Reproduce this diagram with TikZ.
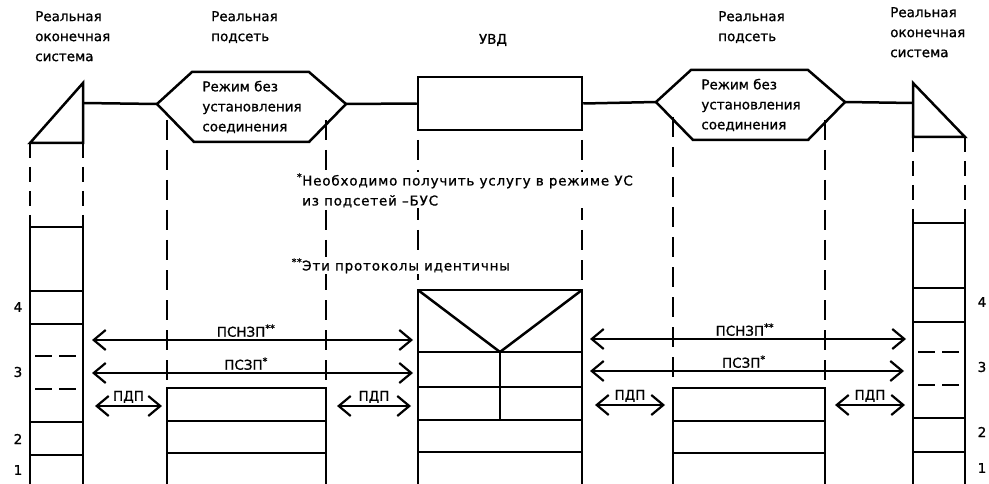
\documentclass[tikz,border=0pt]{standalone}
\usepackage{fontspec}
\setmainfont[FakeBold=1]{DejaVu Sans}
\usetikzlibrary{arrows.meta}

\begin{document}
\begin{tikzpicture}[x=1pt, y=-1pt, line width=2.5pt, font=\fontsize{13.5}{20}\selectfont,
  hdr/.style={anchor=north west, align=left, inner sep=0pt},
  brk/.style={dash pattern=on 20pt off 10pt},
  sbrk/.style={line width=2.2pt, dash pattern=on 17pt off 7pt},
  pdu/.style={{Straight Barb[length=12pt,width=20pt]}-{Straight Barb[length=12pt,width=20pt]}, line width=2.2pt},
  plab/.style={anchor=south, inner sep=2pt},
  note/.style={anchor=north west, align=left, inner sep=1pt, fill=white,
    font=\fontsize{13.5}{20}\selectfont\addfontfeatures{LetterSpace=6}}]
  \useasboundingbox (0,0) rectangle (989,484);

  % headings
  \node[hdr] (esLhd) at (34,10) {Реальная\\оконечная\\система};
  \node[hdr] (snLhd) at (210,10) {Реальная\\подсеть};
  \node[inner sep=0pt] (relayhd) at (493,40) {УВД};
  \node[hdr] (snRhd) at (717,10) {Реальная\\подсеть};
  \node[hdr] (esRhd) at (889,6) {Реальная\\оконечная\\система};

  % end systems
  \draw (83,83) -- (83,143) -- (30,143) -- cycle;
  \draw (913,83) -- (913,137) -- (965,137) -- cycle;
  \coordinate (esLtop) at (83,103);
  \coordinate (esRtop) at (913,103);

  % subnets, connectionless mode
  \foreach \sn/\cx/\top in {L/252/72, R/751/70} {
    \draw (\cx-95,\top+32) -- (\cx-60,\top) -- (\cx+57,\top) -- (\cx+94,\top+32)
      -- (\cx+57,\top+70) -- (\cx-58,\top+70) -- cycle;
    \coordinate (hex\sn w) at (\cx-95,\top+32);
    \coordinate (hex\sn e) at (\cx+94,\top+32);
    \node[align=left, inner sep=0pt] (hex\sn txt) at (\cx,\top+35) {Режим без\\установления\\соединения};
  }

  % relay
  \node[draw, minimum width=164pt, minimum height=53pt, inner sep=0pt] (relay) at (500,103.5) {};

  \draw (esLtop) -- (hexLw);
  \draw (hexLe) -- (relay.west);
  \draw (relay.east) -- (hexRw);
  \draw (hexRe) -- (esRtop);

  % dashed drops
  \foreach \x/\ya/\yb in {30/143/227, 83/143/227, 913/137/223, 965/137/223}
    \draw[brk, dash pattern=on 15pt off 9pt] (\x,\ya) -- (\x,\yb);
  \foreach \x/\ya/\yb in {167/120/388, 326/120/388, 673/117/387, 825/120/387, 418/140/290, 582/140/290}
    \draw[brk] (\x,\ya) -- (\x,\yb);

  % end system stacks
  \draw (30,484) -- (30,227) -- (83,227) -- (83,484);
  \foreach \y in {291,324,422,455} \draw (30,\y) -- (83,\y);
  \foreach \y in {356,389} \draw[sbrk] (35,\y) -- (80,\y);
  \draw (913,484) -- (913,223) -- (965,223) -- (965,484);
  \foreach \y in {288,322,418,452} \draw (913,\y) -- (965,\y);
  \foreach \y in {352,385} \draw[sbrk] (918,\y) -- (963,\y);

  % subnet stacks
  \foreach \a/\b in {167/326, 673/825} {
    \draw (\a,484) -- (\a,388) -- (\b,388) -- (\b,484);
    \foreach \y in {421,453} \draw (\a,\y) -- (\b,\y);
  }

  % relay stack
  \draw (418,484) -- (418,290) -- (582,290) -- (582,484);
  \draw (418,290) -- (500,352) -- (582,290);
  \foreach \y in {352,387,420,452} \draw (418,\y) -- (582,\y);
  \draw (500,352) -- (500,420);

  % layer numbers
  \foreach \n/\yl/\yr in {4/307/302, 3/372/367, 2/439/432, 1/470/468} {
    \node (num\n L) at (18,\yl) {\n};
    \node (num\n R) at (982,\yr) {\n};
  }

  % peer protocols
  \foreach \i/\xa/\xb/\y/\p/\t in {1/92/413/340/0.48/{ПСНЗП\textsuperscript{**}}, 2/590/906/339/0.49/{ПСНЗП\textsuperscript{**}},
      3/92/413/373/0.48/{ПСЗП\textsuperscript{*}}, 4/590/904/371/0.49/{ПСЗП\textsuperscript{*}},
      5/95/162/406/0.5/{ПДП}, 6/337/411/406/0.5/{ПДП}, 7/595/665/405/0.5/{ПДП}, 8/835/905/405/0.5/{ПДП}} {
    \coordinate (pdu\i w) at (\xa,\y);
    \coordinate (pdu\i e) at (\xb,\y);
    \draw[pdu] (pdu\i w) -- node[plab, pos=\p] (pdu\i lab) {\t} (pdu\i e);
  }

  % notes
  \node[note] (note1) at (300,171) {\llap{\textsuperscript{*}}Необходимо получить услугу в режиме УС\\из подсетей –БУС};
  \node[note] (note2) at (300,256) {\llap{\textsuperscript{**}}Эти протоколы идентичны};
\end{tikzpicture}
\end{document}
